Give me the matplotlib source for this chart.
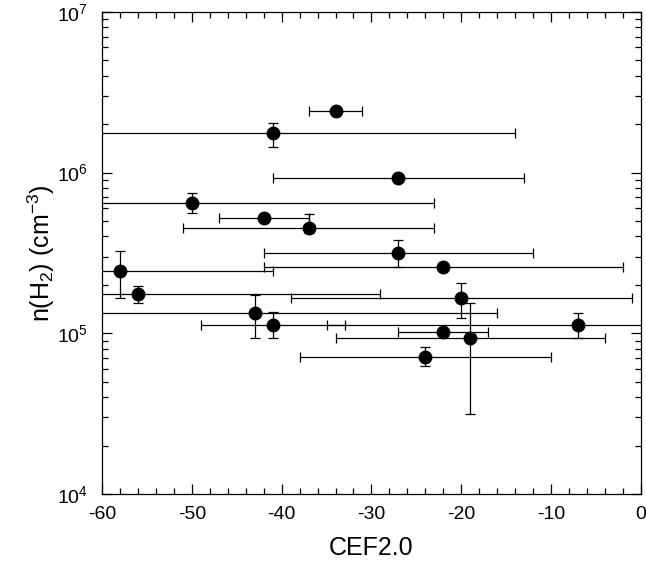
import matplotlib
matplotlib.use("Agg")
import matplotlib.pyplot as plt
import numpy as np
from matplotlib.ticker import MultipleLocator, LogLocator

plt.rcParams['font.family'] = ['Liberation Sans', 'DejaVu Sans']
plt.rcParams['mathtext.default'] = 'regular'
plt.rcParams['axes.unicode_minus'] = False

# CEF2.0 values and densities
cef = [-34, -41, -27, -50, -42, -37, -27, -22, -58, -56, -20, -43, -41, -7, -22, -19, -24]
nh2 = [2.4e6, 1.75e6, 9.3e5, 6.5e5, 5.2e5, 4.5e5, 3.15e5, 2.6e5, 2.45e5, 1.75e5,
       1.65e5, 1.33e5, 1.12e5, 1.12e5, 1.02e5, 9.3e4, 7.1e4]
cef_err = [3, 27, 14, 27, 5, 14, 15, 20, 17, 27, 19, 27, 8, 28, 5, 15, 14]
nh2_lo = [2.4e6, 1.44e6, 9.3e5, 5.6e5, 5.2e5, 4.2e5, 2.6e5, 2.6e5, 1.66e5, 1.55e5,
          1.25e5, 9.35e4, 9.3e4, 9.3e4, 1.02e5, 3.15e4, 6.3e4]
nh2_hi = [2.4e6, 2.04e6, 9.3e5, 7.5e5, 5.2e5, 5.5e5, 3.8e5, 2.6e5, 3.26e5, 1.97e5,
          2.06e5, 1.73e5, 1.36e5, 1.34e5, 1.02e5, 1.55e5, 8.2e4]

x = np.array(cef)
y = np.array(nh2)
yerr = [y - np.array(nh2_lo), np.array(nh2_hi) - y]

fig = plt.figure(figsize=(6.46, 5.62), dpi=100)
ax = fig.add_axes([0.158, 0.121, 0.834, 0.858])

ax.errorbar(x, y, xerr=cef_err, yerr=yerr, fmt='o', color='black',
            markersize=9, elinewidth=0.9, capsize=3.5, capthick=0.9)

ax.set_yscale('log')
ax.set_xlim(-60, 0)
ax.set_ylim(1e4, 1e7)

ax.xaxis.set_major_locator(MultipleLocator(10))
ax.xaxis.set_minor_locator(MultipleLocator(2))
ax.yaxis.set_major_locator(LogLocator(base=10))
ax.yaxis.set_minor_locator(LogLocator(base=10, subs=np.arange(2, 10)))

ax.tick_params(which='both', direction='in', top=True, right=True, labelsize=14)
ax.tick_params(which='major', length=7, width=0.9)
ax.tick_params(axis='x', which='major', pad=9)
ax.tick_params(axis='y', which='major', pad=10)
ax.tick_params(which='minor', length=4, width=0.9)
for s in ax.spines.values():
    s.set_linewidth(0.9)

ax.set_xlabel('CEF2.0', fontsize=18, labelpad=9)
ax.set_ylabel('n(H$_2$) (cm$^{-3}$)', fontsize=18, labelpad=0)

fig.savefig('out.png', dpi=100)
